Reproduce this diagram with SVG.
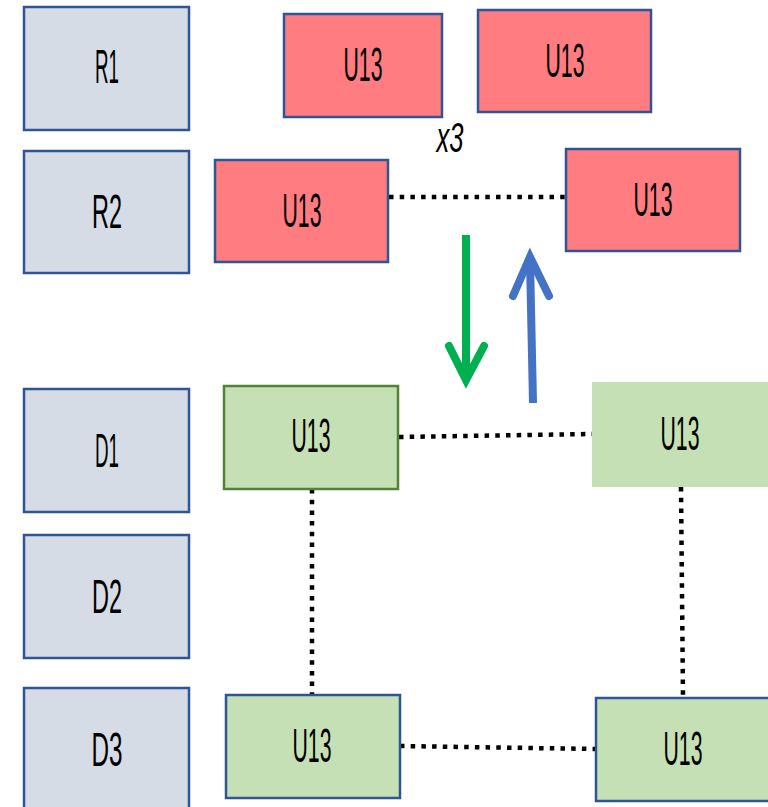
<svg xmlns="http://www.w3.org/2000/svg" width="768" height="807" viewBox="0 0 768 807">
<style>
.lbl{fill:#D6DCE5;stroke:#2F5597;stroke-width:2.5}
.red{fill:#FF7C80;stroke:#2F5597;stroke-width:2.5}
.grn{fill:#C5E0B4;stroke:#2F5597;stroke-width:2.5}
.grn2{fill:#C5E0B4;stroke:#538135;stroke-width:2.5}
.grn3{fill:#C5E0B4;stroke:none}
text{font-family:"Liberation Sans","DejaVu Sans",sans-serif;font-size:48px;fill:#000;text-anchor:middle}
.dot{stroke:#000;stroke-width:4.5;stroke-dasharray:4.5 6.2;fill:none}
</style>
<rect width="768" height="807" fill="#fff"/>
<g id="connectors">
<line class="dot" x1="389" y1="197" x2="566" y2="197"/>
<line class="dot" x1="399" y1="437" x2="592" y2="434"/>
<line class="dot" x1="312" y1="489" x2="312" y2="695"/>
<line class="dot" x1="681" y1="487" x2="683" y2="697"/>
<line class="dot" x1="400" y1="746" x2="596" y2="749"/>
<g id="arrow-down" fill="none" stroke="#00B050" stroke-width="8">
<line x1="466" y1="235" x2="466" y2="376"/>
<polyline points="449,346 466,380 484,346" stroke-linecap="round" stroke-linejoin="miter"/>
</g>
<g id="arrow-up" fill="none" stroke="#4472C4" stroke-width="8">
<line x1="533" y1="403" x2="530" y2="260"/>
<polyline points="513,296 530,257 549,296" stroke-linecap="round" stroke-linejoin="miter"/>
</g>
</g>
<g id="R1"><rect class="lbl" x="24" y="7" width="165" height="123"/><text x="107" y="83" textLength="24" lengthAdjust="spacingAndGlyphs">R1</text></g>
<g id="R2"><rect class="lbl" x="24" y="151" width="165" height="122"/><text x="107" y="228" textLength="30" lengthAdjust="spacingAndGlyphs">R2</text></g>
<g id="D1"><rect class="lbl" x="24" y="389" width="165" height="123"/><text x="107" y="467" textLength="24" lengthAdjust="spacingAndGlyphs">D1</text></g>
<g id="D2"><rect class="lbl" x="24" y="535" width="165" height="123"/><text x="107" y="613" textLength="30" lengthAdjust="spacingAndGlyphs">D2</text></g>
<g id="D3"><rect class="lbl" x="24" y="688" width="165" height="125"/><text x="107" y="766" textLength="31" lengthAdjust="spacingAndGlyphs">D3</text></g>
<g id="r1a"><rect class="red" x="284" y="14" width="158" height="103"/><text x="363" y="81" textLength="39" lengthAdjust="spacingAndGlyphs">U13</text></g>
<g id="r1b"><rect class="red" x="478" y="10" width="173" height="102"/><text x="565" y="77" textLength="39" lengthAdjust="spacingAndGlyphs">U13</text></g>
<g id="x3"><text x="450" y="152" textLength="27" lengthAdjust="spacingAndGlyphs" font-style="italic" style="font-size:42px">x3</text></g>
<g id="r2a"><rect class="red" x="215" y="160" width="173" height="102"/><text x="302" y="227" textLength="39" lengthAdjust="spacingAndGlyphs">U13</text></g>
<g id="r2b"><rect class="red" x="566" y="149" width="174" height="102"/><text x="653" y="216" textLength="39" lengthAdjust="spacingAndGlyphs">U13</text></g>
<g id="d1a"><rect class="grn2" x="224" y="386" width="174" height="103"/><text x="311" y="452" textLength="39" lengthAdjust="spacingAndGlyphs">U13</text></g>
<g id="d1b"><rect class="grn3" x="592" y="382" width="180" height="105"/><text x="680" y="450" textLength="39" lengthAdjust="spacingAndGlyphs">U13</text></g>
<g id="d3a"><rect class="grn" x="226" y="695" width="174" height="103"/><text x="312" y="762" textLength="39" lengthAdjust="spacingAndGlyphs">U13</text></g>
<g id="d3b"><rect class="grn" x="596" y="698" width="180" height="103"/><text x="683" y="765" textLength="39" lengthAdjust="spacingAndGlyphs">U13</text></g>
</svg>
